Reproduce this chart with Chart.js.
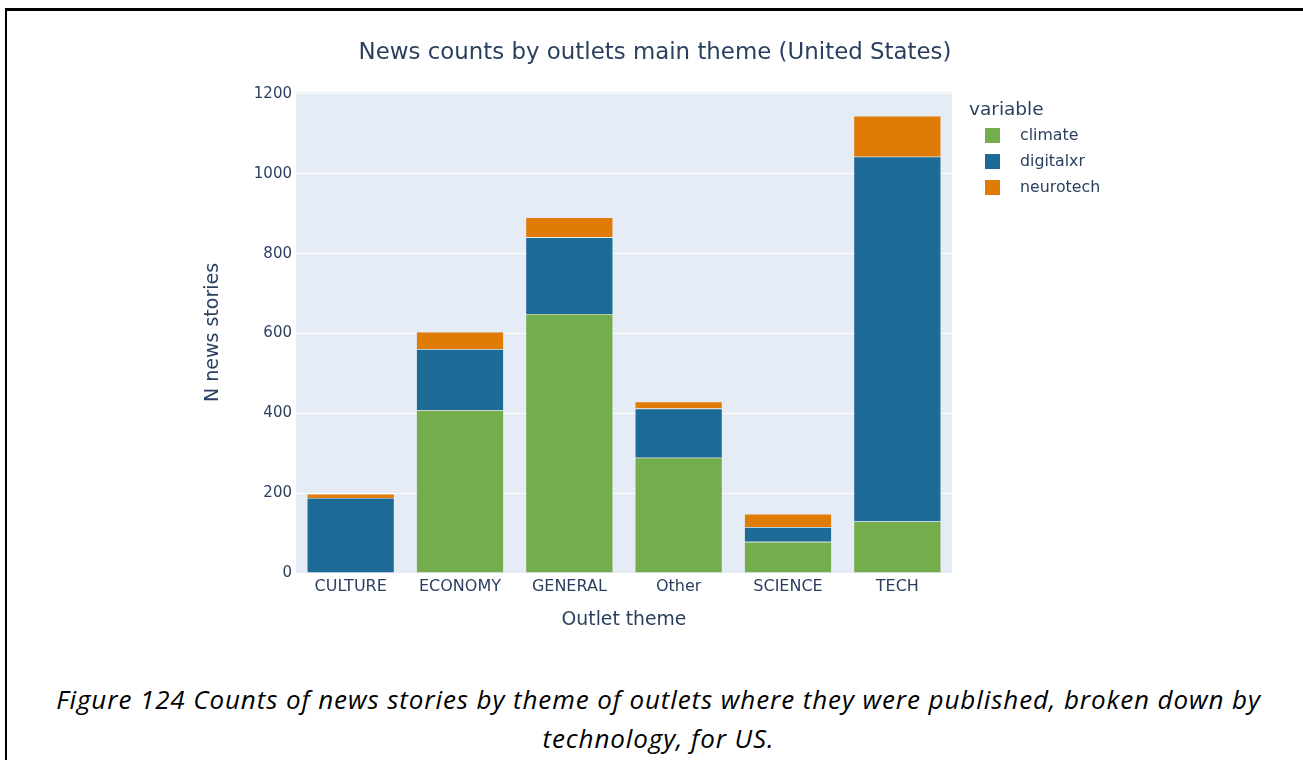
<!DOCTYPE html>
<html><head><meta charset="utf-8">
<script src="https://cdn.jsdelivr.net/npm/chart.js@4/dist/chart.umd.min.js"></script>
<style>
html,body{margin:0;padding:0;background:#fff;width:1303px;height:760px;overflow:hidden;font-family:"Open Sans",sans-serif}
#frame{position:absolute;left:5px;top:8px;width:1320px;height:800px;border-left:2px solid #000;border-top:3px solid #000;box-sizing:border-box}
#wrap{position:absolute;left:0;top:0;width:1303px;height:640px}
#caption{position:absolute;left:7px;width:1303px;top:680px;text-align:center;font-style:italic;font-size:26px;letter-spacing:0.9px;line-height:39px;color:#000;font-family:"Open Sans",sans-serif}
</style></head><body>
<div id="frame"></div>
<div id="wrap"><canvas id="c" width="1303" height="640"></canvas></div>
<div id="caption">Figure 124 Counts of news stories by theme of outlets where they were published, broken down by<br>technology, for US.</div>
<script>
const categories = ['CULTURE','ECONOMY','GENERAL','Other','SCIENCE','TECH'];
const climate   = [0, 408, 649, 289, 78, 129];
const digitalxr = [188, 153, 192, 123, 37, 914];
const neurotech = [10, 43, 50, 17, 33, 102];
const yTicks = [0, 200, 400, 600, 800, 1000, 1200];
const seriesNames = ['climate', 'digitalxr', 'neurotech'];
const seriesColors = ['#74ad4b', '#1e6a96', '#e07b05'];
const chartTitle = 'News counts by outlets main theme (United States)';
const legendTitle = 'variable';

const textColor = '#2a3f5f';
const FONT = '"DejaVu Sans", Verdana, sans-serif';

const bgPlugin = {
  id: 'bg',
  beforeDraw(chart) {
    const {ctx, chartArea: a} = chart;
    ctx.save();
    ctx.fillStyle = '#e5ecf6';
    ctx.fillRect(a.left, a.top, a.right - a.left, a.bottom - a.top);
    ctx.restore();
  },
  afterDraw(chart) {
    const {ctx, chartArea: a} = chart;
    ctx.save();
    ctx.fillStyle = textColor;
    ctx.textBaseline = 'middle';
    ctx.textAlign = 'center';
    ctx.font = '22.9px ' + FONT;
    ctx.fillText(chartTitle, 655, 53);
    ctx.textAlign = 'left';
    ctx.font = '18.5px ' + FONT;
    const lx = a.right + 17;
    ctx.fillText(legendTitle, lx, 110);
    ctx.font = '15.8px ' + FONT;
    chart.data.datasets.forEach((ds, i) => {
      const y = 128 + i * 26;
      ctx.fillStyle = ds.backgroundColor;
      ctx.fillRect(lx + 16, y, 15, 15);
      ctx.fillStyle = textColor;
      ctx.fillText(ds.label, lx + 51, y + 8);
    });
    ctx.restore();
  }
};

const vals = [climate, digitalxr, neurotech];
new Chart(document.getElementById('c'), {
  type: 'bar',
  data: {
    labels: categories,
    datasets: seriesNames.map((n, i) => ({
      label: n,
      data: vals[i],
      backgroundColor: seriesColors[i],
      borderColor: '#e5ecf6',
      borderWidth: 0.6,
      barPercentage: 0.8,
      categoryPercentage: 1.0
    }))
  },
  options: {
    responsive: false,
    animation: false,
    devicePixelRatio: 1,
    layout: {padding: {left: 0, right: 351, top: 92, bottom: 0}},
    plugins: {legend: {display: false}, title: {display: false}, tooltip: {enabled: false}},
    scales: {
      x: {
        stacked: true,
        grid: {display: false, drawTicks: false},
        border: {display: false},
        ticks: {color: textColor, font: {family: FONT, size: 16}, padding: 4, maxRotation: 0},
        title: {display: true, text: 'Outlet theme', color: textColor, font: {family: FONT, size: 18.8}, padding: {top: 0, bottom: 9}},
        afterFit(s) { s.height = 67; }
      },
      y: {
        stacked: true,
        min: 0, max: 1205,
        grid: {color: '#ffffff', lineWidth: 1, drawTicks: false},
        border: {display: false},
        ticks: {color: textColor, font: {family: FONT, size: 15}, padding: 4, callback: v => String(v)},
        afterBuildTicks(s) { s.ticks = yTicks.map(v => ({value: v})); },
        title: {display: true, text: 'N news stories', color: textColor, font: {family: FONT, size: 19}, padding: {top: 202, bottom: 0}},
        afterFit(s) { s.width = 296; }
      }
    }
  },
  plugins: [bgPlugin]
});
</script>
</body></html>
